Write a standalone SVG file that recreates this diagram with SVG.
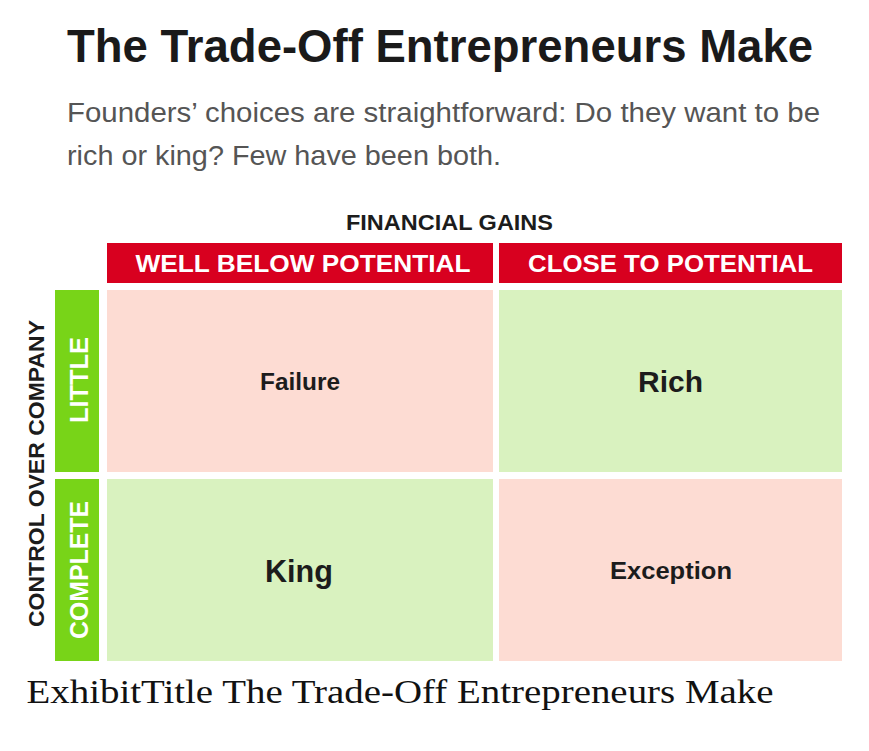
<svg xmlns="http://www.w3.org/2000/svg" width="869" height="751" viewBox="0 0 869 751">
<style>
.sans{font-family:"Liberation Sans",Arial,sans-serif}
.b{font-weight:bold}
.hdr{fill:#d8001f}
.bar{fill:#78d418}
.pink{fill:#fddcd3}
.green{fill:#d9f2bf}
.wt{fill:#ffffff;font-family:"Liberation Sans",Arial,sans-serif;font-weight:bold}
.dk{fill:#1c1c1c;font-family:"Liberation Sans",Arial,sans-serif;font-weight:bold}
</style>
<rect width="869" height="751" fill="#ffffff"/>
<g id="title">
<text class="sans b" x="67" y="62" font-size="46.5" fill="#1a1a1a" textLength="746" lengthAdjust="spacingAndGlyphs">The Trade-Off Entrepreneurs Make</text>
</g>
<g id="subtitle">
<text class="sans" x="67" y="122" font-size="27.5" fill="#555555" textLength="753" lengthAdjust="spacingAndGlyphs">Founders’ choices are straightforward: Do they want to be</text>
<text class="sans" x="67" y="165" font-size="27.5" fill="#555555" textLength="434" lengthAdjust="spacingAndGlyphs">rich or king? Few have been both.</text>
</g>
<g id="axis-financial">
<text class="dk" x="449.5" y="229.5" font-size="22" text-anchor="middle" fill="#222" textLength="207" lengthAdjust="spacingAndGlyphs">FINANCIAL GAINS</text>
</g>
<g id="axis-control">
<text class="dk" transform="translate(43.5,473.5) rotate(-90)" x="0" y="0" font-size="22" text-anchor="middle" textLength="307" lengthAdjust="spacingAndGlyphs">CONTROL OVER COMPANY</text>
</g>
<g id="col-well-below">
<rect class="hdr" x="107" y="243" width="386" height="40"/>
<text class="wt" x="303" y="272" font-size="24.5" text-anchor="middle" textLength="335" lengthAdjust="spacingAndGlyphs">WELL BELOW POTENTIAL</text>
</g>
<g id="col-close">
<rect class="hdr" x="499" y="243" width="343" height="40"/>
<text class="wt" x="670.5" y="272" font-size="24.5" text-anchor="middle" textLength="285" lengthAdjust="spacingAndGlyphs">CLOSE TO POTENTIAL</text>
</g>
<g id="row-little">
<rect class="bar" x="55" y="290" width="44" height="182"/>
<text class="wt" transform="translate(88,380) rotate(-90)" x="0" y="0" font-size="26" text-anchor="middle" textLength="86" lengthAdjust="spacingAndGlyphs">LITTLE</text>
</g>
<g id="row-complete">
<rect class="bar" x="55" y="479" width="44" height="182"/>
<text class="wt" transform="translate(88,570) rotate(-90)" x="0" y="0" font-size="26" text-anchor="middle" textLength="138" lengthAdjust="spacingAndGlyphs">COMPLETE</text>
</g>
<g id="cell-failure">
<rect class="pink" x="107" y="290" width="386" height="182"/>
<text class="dk" x="300" y="390" font-size="24" text-anchor="middle" textLength="80" lengthAdjust="spacingAndGlyphs">Failure</text>
</g>
<g id="cell-rich">
<rect class="green" x="499" y="290" width="343" height="182"/>
<text class="dk" x="670.5" y="392" font-size="30" text-anchor="middle" textLength="65" lengthAdjust="spacingAndGlyphs">Rich</text>
</g>
<g id="cell-king">
<rect class="green" x="107" y="479" width="386" height="182"/>
<text class="dk" x="299" y="582" font-size="31" text-anchor="middle" textLength="68" lengthAdjust="spacingAndGlyphs">King</text>
</g>
<g id="cell-exception">
<rect class="pink" x="499" y="479" width="343" height="182"/>
<text class="dk" x="671" y="579" font-size="24" text-anchor="middle" textLength="122" lengthAdjust="spacingAndGlyphs">Exception</text>
</g>
<g id="caption">
<text x="26.5" y="703" font-family="'Liberation Serif','Times New Roman',serif" font-size="34" fill="#111111" textLength="747" lengthAdjust="spacingAndGlyphs">ExhibitTitle The Trade-Off Entrepreneurs Make</text>
</g>
</svg>
